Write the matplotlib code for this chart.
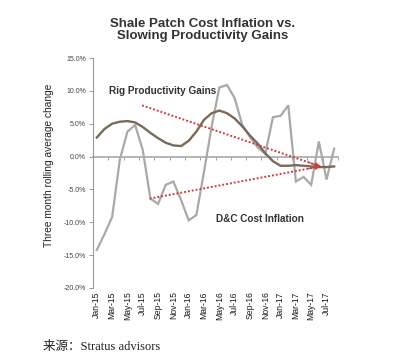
import matplotlib
matplotlib.use('Agg')
import matplotlib.pyplot as plt
import numpy as np

# ---- data ----
months = ['Jan-15', 'Feb-15', 'Mar-15', 'Apr-15', 'May-15', 'Jun-15', 'Jul-15', 'Aug-15',
          'Sep-15', 'Oct-15', 'Nov-15', 'Dec-15', 'Jan-16', 'Feb-16', 'Mar-16', 'Apr-16',
          'May-16', 'Jun-16', 'Jul-16', 'Aug-16', 'Sep-16', 'Oct-16', 'Nov-16', 'Dec-16',
          'Jan-17', 'Feb-17', 'Mar-17', 'Apr-17', 'May-17', 'Jun-17', 'Jul-17', 'Aug-17']
tick_labels = ['Jan-15', 'Mar-15', 'May-15', 'Jul-15', 'Sep-15', 'Nov-15', 'Jan-16', 'Mar-16',
               'May-16', 'Jul-16', 'Sep-16', 'Nov-16', 'Jan-17', 'Mar-17', 'May-17', 'Jul-17']
dc_cost = [-14.2, -11.8, -9.2, -0.5, 3.8, 4.8, 1.0, -6.4, -7.2, -4.3, -3.8, -6.6, -9.7, -8.9,
           -2.3, 4.6, 10.5, 10.9, 8.9, 4.8, 3.0, 1.4, 0.4, 6.0, 6.2, 7.8, -3.8, -3.1, -4.3,
           2.3, -3.5, 1.2]
rig_gains = [2.9, 4.2, 5.0, 5.3, 5.4, 5.2, 4.5, 3.6, 2.8, 2.1, 1.7, 1.6, 2.4, 3.8, 5.6, 6.6,
             7.0, 6.6, 5.8, 4.6, 3.2, 2.0, 0.5, -0.7, -1.4, -1.4, -1.3, -1.4, -1.5, -1.6,
             -1.6, -1.5]
# trend arrows (start x-index, start value) -> (end x-index, end value)
rig_trend_x = [5.9, 29.2]
rig_trend_y = [7.8, -1.5]
dc_trend_x = [6.9, 29.2]
dc_trend_y = [-6.4, -1.5]

GRAY = '#a9a9a9'
BROWN = '#7a6a5a'
RED = '#c8413c'

fig = plt.figure(figsize=(4.16, 3.61), dpi=100)
ax = fig.add_axes([93 / 416, 1 - 288 / 361, 245 / 416, 230 / 361])

x = np.arange(len(months))
ax.plot(x, dc_cost, color=GRAY, lw=1.6, solid_joinstyle='miter', zorder=3)
ax.plot(x, rig_gains, color=BROWN, lw=1.7, zorder=4)

for tx, ty in ((rig_trend_x, rig_trend_y), (dc_trend_x, dc_trend_y)):
    ax.plot(tx, ty, color=RED, lw=1.4, ls=(0, (1, 1)), zorder=5)
    bx = tx[0] + 0.93 * (tx[1] - tx[0])
    by = ty[0] + 0.93 * (ty[1] - ty[0])
    ax.annotate('', xy=(tx[1], ty[1]), xytext=(bx, by),
                arrowprops=dict(arrowstyle='-|>', color=RED, lw=0.8,
                                mutation_scale=7, shrinkA=0, shrinkB=0), zorder=6)

ax.set_xlim(-0.5, len(months) - 0.5)
ax.set_ylim(-20, 15)
yt = np.arange(-20, 15.1, 5)
ax.set_yticks(yt)
ax.set_yticklabels([f'{v:.1f}%' for v in yt], fontsize=5.0, color='#444444',
                   family='Liberation Sans')
ax.tick_params(axis='y', length=3, width=0.7, color='#999999', pad=2)

# zero axis with boundary ticks
for s in ('top', 'right'):
    ax.spines[s].set_visible(False)
ax.spines['left'].set_color('#999999')
ax.spines['left'].set_linewidth(0.8)
ax.spines['bottom'].set_position(('data', 0))
ax.spines['bottom'].set_color('#a0a0a0')
ax.spines['bottom'].set_linewidth(1.1)
ax.set_xticks(np.arange(-0.5, len(months), 2))
ax.set_xticklabels([])
ax.tick_params(axis='x', length=2.5, width=0.7, color='#a0a0a0', direction='out')

sec = ax.secondary_xaxis(0)
label_pos = [months.index(m) for m in tick_labels]
sec.set_xticks(label_pos)
sec.set_xticklabels(tick_labels, rotation=90, fontsize=6.2, color='#1a1a1a',
                    family='Liberation Sans')
sec.tick_params(length=0, pad=2.5)
sec.spines['bottom'].set_visible(False)

ax.set_ylabel('Three month rolling average change', fontsize=7.3, color='#222222',
              family='Liberation Sans')
ax.yaxis.set_label_coords(-0.16, 0.535)

ax.text(1.6, 10.0, 'Rig Productivity Gains', fontsize=7.2, fontweight='bold',
        color='#333333', family='Liberation Sans', va='center', ha='left', zorder=7)
ax.text(15.6, -9.5, 'D&C Cost Inflation', fontsize=7.2, fontweight='bold',
        color='#333333', family='Liberation Sans', va='center', ha='left', zorder=7)

fig.text(203 / 416, 1 - 30 / 361, 'Shale Patch Cost Inflation vs.\nSlowing Productivity Gains',
         ha='center', va='center', fontsize=9.5, fontweight='bold', color='#333333',
         family='Liberation Sans', linespacing=1.1)

fig.text(43 / 416, 1 - 347 / 361, '来源：Stratus advisors', ha='left', va='center',
         fontsize=9, color='#222222', family=['Liberation Serif', 'Noto Sans CJK SC'])

fig.savefig('out.png', dpi=100, facecolor='white')
